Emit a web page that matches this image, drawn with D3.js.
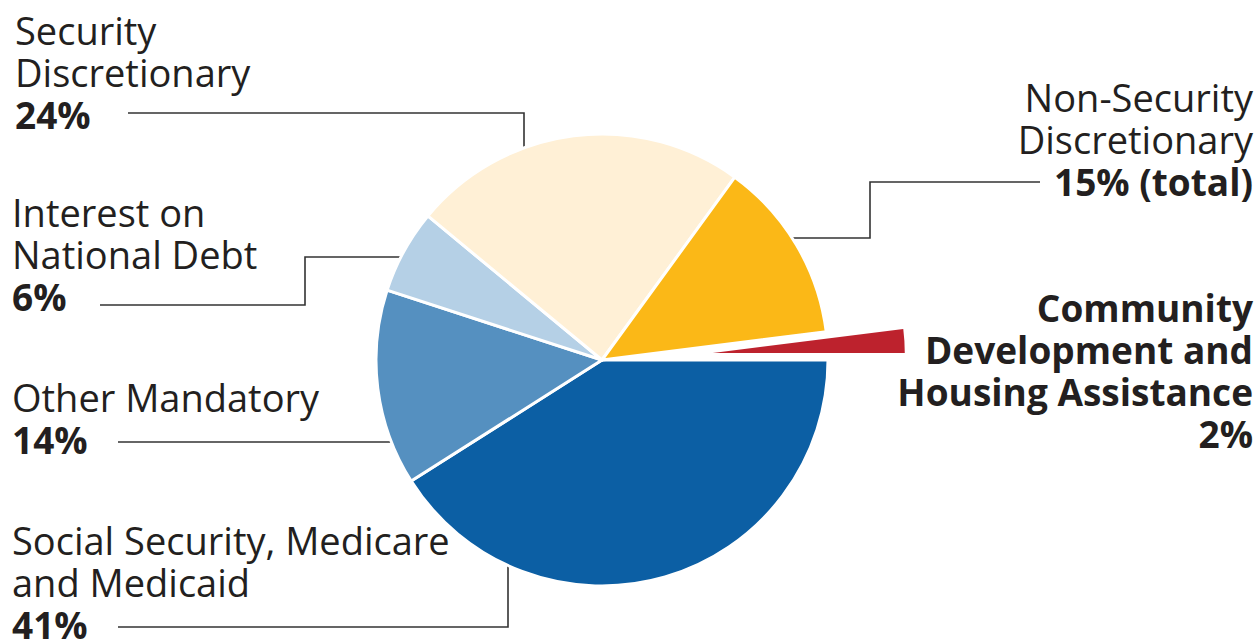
<!DOCTYPE html>
<html>
<head>
<meta charset="utf-8">
<script src="https://cdn.jsdelivr.net/npm/d3@7"></script>
<style>
  body { margin: 0; background: #fff; }
  svg text { font-family: "Open Sans", sans-serif; fill: #231f20; }
</style>
</head>
<body>
<div id="chart"></div>
<script>
// budget shares, clockwise from 3 o'clock
const categories = [
    "Social Security, Medicare and Medicaid",
    "Other Mandatory",
    "Interest on National Debt",
    "Security Discretionary",
    "Non-Security Discretionary",
    "Community Development and Housing Assistance"
];
const values = [41, 14, 6, 24, 13, 2];
const percentLabels = ["41%", "14%", "6%", "24%", "15% (total)", "2%"];
const labelLines = [
    ["Social Security, Medicare", "and Medicaid"],
    ["Other Mandatory"],
    ["Interest on", "National Debt"],
    ["Security", "Discretionary"],
    ["Non-Security", "Discretionary"],
    ["Community", "Development and", "Housing Assistance"]
];
const colors = ["#0c5fa4", "#5590c0", "#b5d0e6", "#fff0d6", "#fbb817", "#bd222d"];

const width = 1260, height = 643;
const cx = 602, cy = 360, radius = 226;
const lineH = 42, fontSize = 38, boldSize = 37;

const svg = d3.select("#chart").append("svg")
    .attr("width", width)
    .attr("height", height);

// label blocks: x, first baseline, anchor, bold all lines?
const labelLayout = [
    { x: 12, y: 555, anchor: "start", bold: false },
    { x: 12, y: 412, anchor: "start", bold: false },
    { x: 12, y: 227, anchor: "start", bold: false },
    { x: 15, y: 45, anchor: "start", bold: false },
    { x: 1253, y: 112, anchor: "end", bold: false },
    { x: 1253, y: 322, anchor: "end", bold: true }
];

// point on the pie rim for a given x (top/bottom) or y (left/right)
function rimY(x, side) {
    const d = Math.sqrt(radius * radius - (x - cx) * (x - cx));
    return side === "top" ? cy - d : cy + d;
}
function rimX(y, side) {
    const d = Math.sqrt(radius * radius - (y - cy) * (y - cy));
    return side === "left" ? cx - d : cx + d;
}

// leader routes
const leaders = [
    [[118, 627], [508, 627], [508, rimY(508, "bottom")]],
    [[118, 442], [rimX(442, "left"), 442]],
    [[100, 305], [305, 305], [305, 257], [rimX(257, "left"), 257]],
    [[128, 113], [524, 113], [524, rimY(524, "top")]],
    [[1040, 182], [870, 182], [870, 238], [rimX(238, "right"), 238]]
];

const line = d3.line();
svg.append("g").selectAll("path")
    .data(leaders)
    .join("path")
    .attr("d", line)
    .attr("fill", "none")
    .attr("stroke", "#333")
    .attr("stroke-width", 1.6);

const pie = d3.pie()
    .sort(null)
    .value(d => d)
    .startAngle(Math.PI / 2)
    .endAngle(Math.PI / 2 + 2 * Math.PI);

const arcs = pie(values);
const arc = d3.arc().innerRadius(0).outerRadius(radius);

const g = svg.append("g").attr("transform", `translate(${cx},${cy})`);

g.selectAll("path.slice")
    .data(arcs.slice(0, 5))
    .join("path")
    .attr("class", "slice")
    .attr("d", arc)
    .attr("fill", (d, i) => colors[i])
    .attr("stroke", "#fff")
    .attr("stroke-width", 3)
    .attr("stroke-linejoin", "round");

// exploded small slice
const small = arcs[5];
const mid = (small.startAngle + small.endAngle) / 2;
const pull = 111;
const smallArc = d3.arc().innerRadius(0).outerRadius(192);
g.append("path")
    .datum(small)
    .attr("d", smallArc)
    .attr("fill", colors[5])
    .attr("transform", `translate(${Math.sin(mid) * pull},${-Math.cos(mid) * pull})`);

// labels
labelLayout.forEach((p, i) => {
    const t = svg.append("text")
        .attr("x", p.x)
        .attr("y", p.y)
        .attr("text-anchor", p.anchor);
    const lines = labelLines[i].concat([percentLabels[i]]);
    lines.forEach((s, k) => {
        const isBold = p.bold || k === lines.length - 1;
        t.append("tspan")
            .attr("x", p.x)
            .attr("dy", k === 0 ? 0 : lineH)
            .style("font-weight", isBold ? 700 : 400)
            .style("font-size", (isBold ? boldSize : fontSize) + "px")
            .text(s);
    });
});
</script>
</body>
</html>
